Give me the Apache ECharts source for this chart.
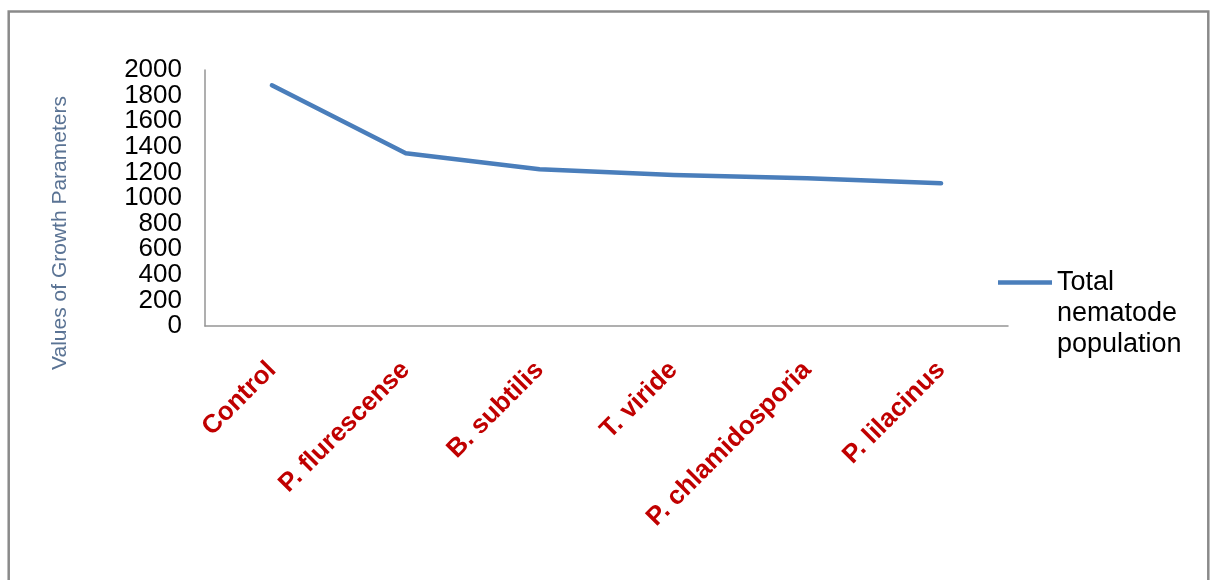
<!DOCTYPE html>
<html>
<head>
<meta charset="utf-8">
<title>Total nematode population</title>
<script src="https://cdn.jsdelivr.net/npm/echarts@6/dist/echarts.min.js"></script>
<style>
  html, body { margin: 0; padding: 0; background: #fff; }
  #chart { width: 1211px; height: 580px; }
</style>
</head>
<body>
<div id="chart"></div>
<script>
// Treatments along the x axis
const categories = ['Control', 'P. flurescense', 'B. subtilis', 'T. viride', 'P. chlamidosporia', 'P. lilacinus'];
// Total nematode population per treatment
const nematodePopulation = [1880, 1350, 1225, 1180, 1155, 1115];
const seriesName = 'Total nematode population';
const yAxisTitle = 'Values of Growth Parameters';
const yMin = 0;
const yMax = 2000;
const yStep = 200;

const FONT = '"Liberation Sans", Arial, sans-serif';

const chart = echarts.init(document.getElementById('chart'), null, { renderer: 'canvas' });

// The tick values sit very close together, so they are split over two
// stacked value axes (even and odd steps) to keep every one of them drawn.
const tickLabel = (parity) => ({
  margin: 23,
  color: '#000',
  fontFamily: FONT,
  fontSize: 26,
  showMinLabel: true,
  showMaxLabel: true,
  formatter: (v) => (Math.round(v / yStep) % 2 === parity ? String(v) : '')
});

chart.setOption({
  backgroundColor: '#ffffff',
  animation: false,
  graphic: [{
    type: 'rect',
    silent: true,
    shape: { x: 8.7, y: 11.5, width: 1199.6, height: 620 },
    style: { fill: 'none', stroke: '#8a8a8a', lineWidth: 2.5 }
  }],
  grid: { left: 205, right: 203, top: 70, bottom: 254 },
  legend: {
    left: 998,
    top: 205,
    padding: 0,
    icon: 'rect',
    itemWidth: 54,
    itemHeight: 4.5,
    data: [seriesName],
    // two blank lines keep the icon level with the first word
    formatter: () => '\n\nTotal\nnematode\npopulation',
    textStyle: { fontFamily: FONT, fontSize: 27, lineHeight: 31, color: '#000' }
  },
  xAxis: {
    type: 'category',
    data: categories,
    boundaryGap: true,
    axisLine: { lineStyle: { color: '#959595', width: 1.5 } },
    axisTick: { show: false },
    axisLabel: {
      rotate: 45,
      interval: 0,
      margin: 40,
      color: '#C00000',
      fontFamily: FONT,
      fontWeight: 'bold',
      fontSize: 26
    },
    splitLine: { show: false }
  },
  yAxis: [{
    type: 'value',
    position: 'left',
    min: yMin,
    max: yMax,
    interval: yStep,
    name: yAxisTitle,
    nameLocation: 'middle',
    nameRotate: 90,
    nameGap: 134,
    nameTextStyle: {
      fontFamily: FONT,
      fontSize: 21,
      color: '#5A7394',
      padding: [0, 70, 0, 0]
    },
    axisLine: { show: true, lineStyle: { color: '#959595', width: 1.5 } },
    axisTick: { show: false },
    axisLabel: tickLabel(0),
    splitLine: { show: false }
  }, {
    type: 'value',
    position: 'left',
    offset: 0,
    min: yMin,
    max: yMax,
    interval: yStep,
    axisLine: { show: false },
    axisTick: { show: false },
    axisLabel: tickLabel(1),
    splitLine: { show: false }
  }],
  series: [{
    name: seriesName,
    type: 'line',
    yAxisIndex: 0,
    data: nematodePopulation,
    symbol: 'none',
    smooth: false,
    lineStyle: { color: '#4A7EBB', width: 4.5, cap: 'round', join: 'round' },
    itemStyle: { color: '#4A7EBB' }
  }]
});
</script>
</body>
</html>
